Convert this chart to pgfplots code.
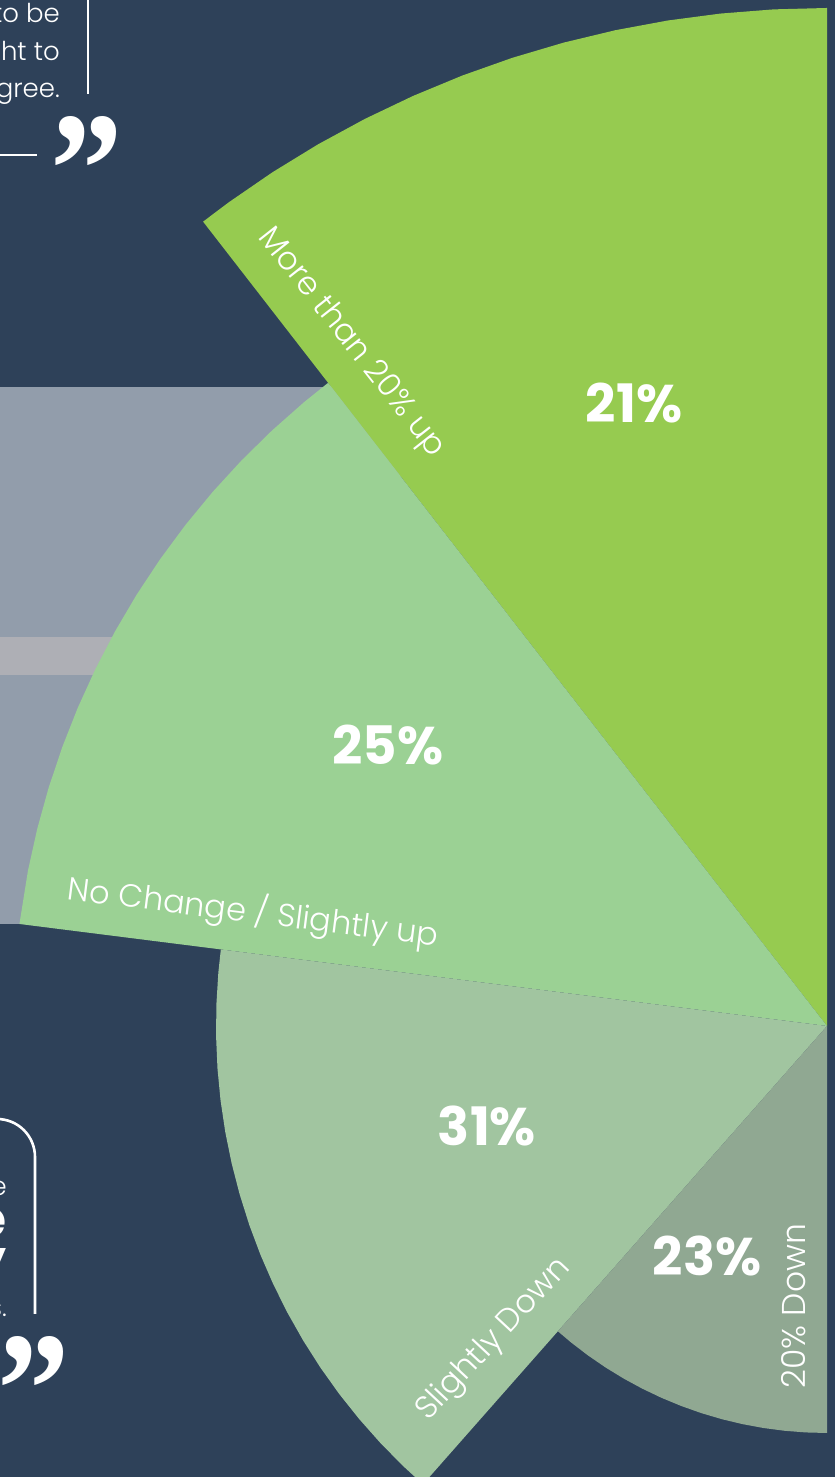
\documentclass[border=0pt]{standalone}
\usepackage{fontspec}
\usepackage{pgfplots}
\pgfplotsset{compat=1.18}
\setmainfont{Poppins}[UprightFont=* Light,BoldFont=* Bold]
\newfontfamily\quotefont{Liberation Serif}
\definecolor{navy}{HTML}{2E4159}
\definecolor{bandA}{HTML}{929DAB}
\definecolor{bandB}{HTML}{AEAFB5}
\definecolor{wA}{HTML}{96CB50}
\definecolor{wB}{HTML}{9BD194}
\definecolor{wC}{HTML}{A1C5A0}
\definecolor{wD}{HTML}{90A892}
\newcommand{\pct}[3]{\node[text=white,font=\fontsize{53}{53}\selectfont\bfseries] at (axis cs:#1-827,1026-#2) {#3\%};}
\begin{document}
\begin{tikzpicture}[x=1pt,y=1pt]
\useasboundingbox (0,0) rectangle (835,1477);
\clip (0,0) rectangle (835,1477);
\fill[navy] (0,0) rectangle (835,1477);
\begin{axis}[at={(0,0)},anchor=south west,scale only axis,width=835pt,height=1477pt,hide axis,
  xmin=-827,xmax=8,ymin=-451,ymax=1026,clip=true]
\fill[bandA] (axis cs:-827,639) rectangle (axis cs:-427,102);
\fill[bandB] (axis cs:-827,389) rectangle (axis cs:-627,351);
% 21% More than 20% up
\addplot[draw=none,fill=wA,data cs=polar] coordinates {(90,0)(90,1018)(93,1018)(96,1018)(99,1018)(102,1018)(105,1018)(108,1018)(111,1018)(114,1018)(117,1018)(120,1018)(123,1018)(126,1018)(127.8,1018)} --cycle;
% 25% No change / slightly up
\addplot[draw=none,fill=wB,data cs=polar] coordinates {(127.8,0)(127.8,814)(130,814)(133,814)(136,814)(139,814)(142,814)(145,814)(148,814)(151,814)(154,814)(157,814)(160,814)(163,814)(166,814)(169,814)(172.8,814)} --cycle;
% 31% Slightly down
\addplot[draw=none,fill=wC,data cs=polar] coordinates {(172.8,0)(172.8,611)(175,611)(178,611)(181,611)(184,611)(187,611)(190,611)(193,611)(196,611)(199,611)(202,611)(205,611)(208,611)(211,611)(214,611)(217,611)(220,611)(223,611)(226,611)(228.6,611)} --cycle;
% 23% 20% down
\addplot[draw=none,fill=wD,data cs=polar] coordinates {(228.6,0)(228.6,407)(231,407)(234,407)(237,407)(240,407)(243,407)(246,407)(249,407)(252,407)(255,407)(258,407)(261,407)(264,407)(267,407)(270,407)} --cycle;
\pct{634}{403}{21}
\pct{388}{745}{25}
\pct{487}{1126}{31}
\pct{707}{1256}{23}
\tikzset{lab/.style={text=white,font=\fontsize{32}{32}\selectfont,inner sep=0pt}}
\node[lab,rotate=-51.7] at (axis cs:351-827,1026-343) {More than 20\% up};
\node[lab,rotate=-7.2] at (axis cs:253-827,1026-912) {No Change / Slightly up};
\node[lab,rotate=47] at (axis cs:494-827,1026-1340) {Slightly Down};
\node[lab,rotate=90,font=\fontsize{33}{33}\selectfont] at (axis cs:794-827,1026-1306) {20\% Down};
% fragments of the surrounding page
\tikzset{frag/.style={text=white,font=\fontsize{26}{26}\selectfont,inner sep=0pt,anchor=base east}}
\node[frag] at (axis cs:60-827,1026-23) {to be};
\node[frag] at (axis cs:60-827,1026-61) {ht to};
\node[frag] at (axis cs:60-827,1026-98) {gree.};
\draw[white,line width=2.6pt] (axis cs:88-827,1030) -- (axis cs:88-827,1026-94);
\draw[white,line width=2.6pt] (axis cs:-827,1026-155) -- (axis cs:37-827,1026-155);
\node[text=white,font=\quotefont\fontsize{145}{145}\selectfont\bfseries,inner sep=0pt,anchor=base east,yscale=1.12] at (axis cs:123-827,1026-225) {”};
\node[text=white,font=\quotefont\fontsize{145}{145}\selectfont\bfseries,inner sep=0pt,anchor=base east,yscale=1.12] at (axis cs:70-827,1026-1445) {”};
\draw[white,line width=2.6pt] (axis cs:-827,1026-1119) -- (axis cs:-3-827,1026-1119) arc[start angle=90,end angle=0,x radius=38pt,y radius=38pt] -- (axis cs:35-827,1026-1314);
\node[text=white,font=\fontsize{26}{26}\selectfont,inner sep=0pt,anchor=base east] at (axis cs:7-827,1026-1196) {e};
\node[text=white,font=\fontsize{52}{52}\selectfont\bfseries,inner sep=0pt,anchor=base east] at (axis cs:7-827,1026-1238) {e};
\node[text=white,font=\fontsize{52}{52}\selectfont\bfseries,inner sep=0pt,anchor=base east] at (axis cs:7-827,1026-1278) {y};
\node[text=white,font=\fontsize{26}{26}\selectfont,inner sep=0pt,anchor=base east] at (axis cs:7-827,1026-1317) {s.};
\end{axis}
\end{tikzpicture}
\end{document}
